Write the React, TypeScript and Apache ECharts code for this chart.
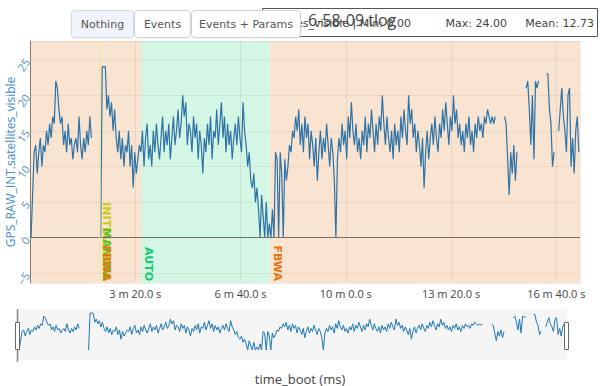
import React, { useEffect, useRef } from 'react';
import * as echarts from 'echarts';

// ---------- data ----------
const T0_MS = 2000;
const STEP_MS = 2940;
const SATS: (number | null)[] = [
  0, 6, 12, 13, 9, 12, 14, 10, 13, 12,
  15, 13, 16, 14, 17, 16, 22, 21, 18, 16,
  17, 13, 15, 12, 16, 13, 14, 11, 13, 14,
  12, 17, 13, 11, 14, 12, 15, 13, 17, 14,
  null, null, null, null, null,
  0, 24, 24, 24,
  18, 20, 17, 19, 15, 18, 14, 12, 15, 11, 14, 10, 13, 12, 15, 10, 13, 7, 12, 9, 11, 13,
  12, 15, 10, 14, 16, 11, 13, 10, 15, 12, 16, 13, 11,
  14, 17, 12, 15, 13, 16, 11, 14, 17, 13,
  15, 18, 14, 16, 20, 17, 19, 13, 16, 15,
  12, 17, 14, 16, 11, 15, 13, 9, 14,
  12, 16, 13, 17, 11, 15, 14, 18, 13, 16,
  19, 14, 17, 12, 16, 13, 15, 11, 14,
  16, 13, 17, 14, 12, 19, 15,
  13, 10, 12, 8, 7, 9, 5, 7, 4,
  0, 6, 3, 0, 5, 0, 2,
  0, 4, 0, 12, 11, 0, 12, 9, 0, 11, 8, 10, 13, 12, 15, 14, 17, 15, 18, 13,
  16, 12, 17, 14, 16, 11, 15, 13, 10, 14, 8, 12, 15, 11, 14, 12, 16, 13, 10, 14,
  12, 8, 0, 11, 14, 12, 16, 13, 15, 11, 17, 14, 19, 15, 13, 16, 12, 14, 11, 15,
  13, 17, 12, 16, 14, 18, 15, 12, 16, 13, 17, 15, 20, 16, 13, 17, 14, 12, 15, 11,
  16, 13, 15, 12, 17, 14, 18, 15, 13, 20, 16, 18, 14, 16, 12, 15, 13, 10, 14, 7,
  12, 15, 11, 14, 16, 13, 17, 14, 12, 16, 14, 18, 15, 19, 16, 13, 17, 15, 20, 16,
  18, 14, 16, 13, 15, 12, 16, 14, 17, 13, 15, 12, 16, 14, 17, 15, 16, 14, 17, 16,
  18, 17, 16, 17, 16, 17,
  null, null, null, null, null,
  17, 16, 11, 6, 12, 9, 13, 8, 12,
  null, null, null, null, null,
  21, 22, 18, 13, 20, 11, 22, 21, 22,
  null, null, null, null,
  23, 23, 18, 16, 10, 12,
  null, null,
  15, 18, 21, 17, 15, 12, 20, 21, 10, 14, 9, 15, 17, 12,
];

const MODE_TIMES_MS = [132000, 132000, 132000, 211000, 456000];
const MODE_NAMES = ['INITIALISING', 'MANUAL', 'FBWA', 'AUTO', 'FBWA'];
const Y_TICKS = [-5, 0, 5, 10, 15, 20, 25];

const TITLE = '6-58-09.tlog';
const FIELD = 'satellites_visible';
const STAT_MIN = 0.0;
const STAT_MAX = 24.0;
const STAT_MEAN = 12.73;

// ---------- styles ----------
const X_MAX = 1045000;
const Y_MIN = -6.35;
const Y_MAX = 27.6;
const PEACH = '#f9e4d2';
const MINT = '#d3f6e5';
const GRID_LINE = 'rgba(150,110,80,0.12)';
const MODE_COLOR: Record<string, string> = {
  INITIALISING: '#caca16',
  MANUAL: '#5dbf2c',
  FBWA: '#e07512',
  AUTO: '#18c96e',
};
const FONT = '"Open Sans", "DejaVu Sans", sans-serif';

function fmtTime(ms: number): string {
  const s = ms / 1000;
  const m = Math.floor(s / 60);
  const r = s - m * 60;
  return `${m} m ${r.toFixed(1)} s`;
}

export default function App() {
  const ref = useRef<HTMLDivElement>(null);

  useEffect(() => {
    document.body.style.margin = '0';
    const chart = echarts.init(ref.current!, null, { renderer: 'svg' });
    const data = SATS.map((v, i) => [T0_MS + i * STEP_MS, v == null ? '-' : v]);
    const modeData = MODE_TIMES_MS.map((t, i) => [t, i]);
    const yTickData = Y_TICKS.map((v) => [0, v]);

    const option: any = {
      animation: false,
      title: {
        text: TITLE,
        left: 303,
        top: 7,
        textStyle: { fontSize: 16, fontWeight: 'normal', color: '#444', fontFamily: FONT },
      },
      grid: [
        { left: 30, right: 20, top: 41, bottom: 103, show: true, backgroundColor: PEACH, borderWidth: 0, outerBoundsMode: 'none', containLabel: false },
        { left: 18, right: 33, top: 309, height: 51, show: true, backgroundColor: '#f5f5f5', borderWidth: 0, outerBoundsMode: 'none', containLabel: false },
      ],
      xAxis: [
        {
          type: 'value', gridIndex: 0, min: 0, max: X_MAX, interval: 200000, z: 2,
          axisLine: { show: false }, axisTick: { show: false },
          splitLine: { show: true, lineStyle: { color: GRID_LINE, width: 1 } },
          axisLabel: {
            formatter: (v: number) => fmtTime(v), showMinLabel: false, showMaxLabel: false,
            color: '#444', fontSize: 11, margin: 5, fontFamily: FONT,
          },
        },
        { type: 'value', gridIndex: 1, min: 0, max: X_MAX, show: false },
      ],
      yAxis: [
        {
          type: 'value', gridIndex: 0, min: Y_MIN, max: Y_MAX, splitNumber: 5, z: 2,
          name: 'GPS_RAW_INT.satellites_visible', nameLocation: 'middle', nameGap: 14,
          nameMoveOverlap: false,
          nameTextStyle: { color: '#3f8bc9', fontSize: 12, fontFamily: FONT },
          axisLine: { show: true, lineStyle: { color: '#8a7b6e', width: 1 } },
          axisTick: { show: false },
          splitLine: { show: true, lineStyle: { color: GRID_LINE, width: 1 } },
          axisLabel: { show: false },
        },
        { type: 'value', gridIndex: 1, min: -6.5, max: 26.6, show: false },
      ],
      series: [
        {
          type: 'line', xAxisIndex: 0, yAxisIndex: 0, data, showSymbol: false, z: 3,
          lineStyle: { color: '#2f73a6', width: 1.2 },
          markArea: {
            silent: true, z: 1,
            itemStyle: { color: MINT },
            data: [[{ xAxis: MODE_TIMES_MS[3] }, { xAxis: MODE_TIMES_MS[4] }]],
          },
          markLine: {
            silent: true, symbol: 'none', label: { show: false },
            data: [
              { yAxis: 0, lineStyle: { color: '#7c6d62', width: 1, type: 'solid' } },
              { xAxis: MODE_TIMES_MS[0], lineStyle: { color: 'rgba(235,235,150,0.7)', width: 1.5, type: 'solid' } },
            ],
          },
        },
        {
          type: 'custom', xAxisIndex: 0, yAxisIndex: 0, data: modeData, z: 4,
          renderItem: (params: any, api: any) => {
            const p = api.coord([api.value(0), Y_MIN]);
            const name = MODE_NAMES[params.dataIndex];
            return {
              type: 'text', x: p[0] + 7, y: p[1] - 2, rotation: -Math.PI / 2,
              style: {
                text: name, fill: MODE_COLOR[name],
                font: 'bold 11px "DejaVu Sans", sans-serif',
                align: 'right', verticalAlign: 'middle',
              },
            };
          },
        },
        {
          type: 'custom', xAxisIndex: 0, yAxisIndex: 0, data: yTickData, z: 4, clip: false, silent: true,
          renderItem: (params: any, api: any) => {
            const v = api.value(1);
            const p = api.coord([0, v]);
            return {
              type: 'text', x: p[0] - 3, y: p[1], rotation: (55 * Math.PI) / 180,
              style: {
                text: String(v).replace('-', '\u2212'), fill: '#4a8ec8',
                font: '11px "Open Sans", sans-serif',
                align: 'right', verticalAlign: 'middle',
              },
            };
          },
        },
        {
          type: 'line', xAxisIndex: 1, yAxisIndex: 1, data, showSymbol: false, z: 3,
          lineStyle: { color: '#1f77b4', width: 1 },
        },
      ],
      graphic: [
        {
          type: 'rect', z: 0, shape: { x: 262.5, y: 8.5, width: 335, height: 28 },
          style: { fill: '#fff', stroke: '#555', lineWidth: 1 },
        },
        {
          type: 'text', x: 411, y: 23,
          style: { text: `${FIELD} | Min: ${STAT_MIN.toFixed(2)}`, fill: '#444', font: '11px "DejaVu Sans", sans-serif', align: 'right', verticalAlign: 'middle' },
        },
        {
          type: 'text', x: 507, y: 23,
          style: { text: `Max: ${STAT_MAX.toFixed(2)}`, fill: '#444', font: '11px "DejaVu Sans", sans-serif', align: 'right', verticalAlign: 'middle' },
        },
        {
          type: 'text', x: 594, y: 23,
          style: { text: `Mean: ${STAT_MEAN.toFixed(2)}`, fill: '#444', font: '11px "DejaVu Sans", sans-serif', align: 'right', verticalAlign: 'middle' },
        },
        {
          type: 'text', x: 300, y: 379,
          style: { text: 'time_boot (ms)', fill: '#444', font: '13px "Open Sans", sans-serif', align: 'center', verticalAlign: 'middle' },
        },
        { type: 'line', shape: { x1: 17.5, y1: 309, x2: 17.5, y2: 362 }, style: { stroke: '#8a8a8a', lineWidth: 1.5 }, z: 10 },
        { type: 'rect', shape: { x: 15.5, y: 322.5, width: 4, height: 27 }, style: { fill: '#fff', stroke: '#666', lineWidth: 1 }, z: 11 },
        { type: 'rect', shape: { x: 564.5, y: 322.5, width: 4, height: 27 }, style: { fill: '#fff', stroke: '#666', lineWidth: 1 }, z: 11 },
      ],
    };
    chart.setOption(option);
    return () => chart.dispose();
  }, []);

  const btn = (left: number, width: number, active: boolean): React.CSSProperties => ({
    position: 'absolute', left, top: 10, width, height: 28, boxSizing: 'border-box',
    background: active ? '#f1f5fb' : '#fff',
    border: active ? '1px solid #cfd9e6' : '1px solid #d2d2d2',
    borderRadius: 4, fontFamily: '"DejaVu Sans", sans-serif', fontSize: 11, color: '#555',
    display: 'flex', alignItems: 'center', justifyContent: 'center', padding: 0,
    boxShadow: '0 1px 1px rgba(0,0,0,0.05)',
  });

  return (
    <div style={{ position: 'relative', width: 600, height: 386, background: '#fff', overflow: 'hidden' }}>
      <div ref={ref} style={{ position: 'absolute', left: 0, top: 0, width: 600, height: 386 }} />
      <button style={btn(71, 63, true)}>Nothing</button>
      <button style={btn(134, 57, false)}>Events</button>
      <button style={btn(191, 110, false)}>Events + Params</button>
    </div>
  );
}
